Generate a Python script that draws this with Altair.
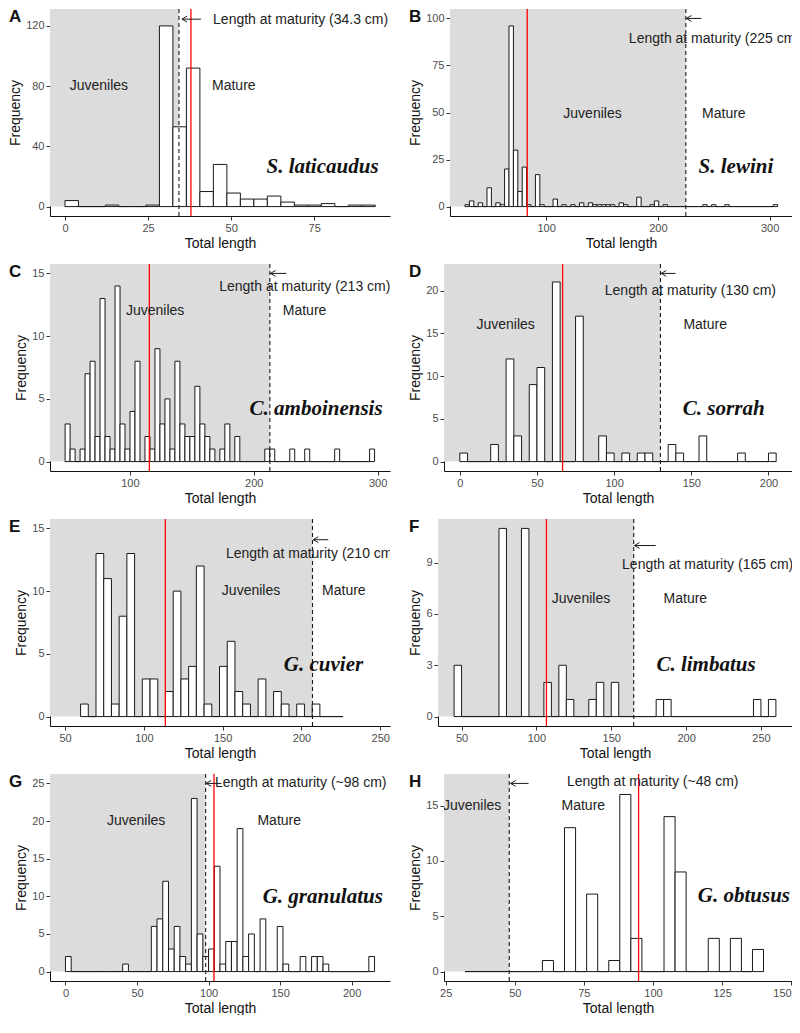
import altair as alt
import pandas as pd

# ---------------- data ----------------
letters = ["A", "B", "C", "D", "E", "F", "G", "H"]
species = ["S. laticaudus", "S. lewini", "C. amboinensis", "C. sorrah",
           "G. cuvier", "C. limbatus", "G. granulatus", "G. obtusus"]
maturity_text = ["Length at maturity (34.3 cm)", "Length at maturity (225 cm)",
                 "Length at maturity (213 cm)", "Length at maturity (130 cm)",
                 "Length at maturity (210 cm)", "Length at maturity (165 cm)",
                 "Length at maturity (~98 cm)", "Length at maturity (~48 cm)"]
maturity_len = [34.3, 225, 213, 130, 207, 165, 98, 48]
mean_len = [37.9, 83.1, 115.7, 66.6, 113.6, 106.7, 103.8, 94.8]

bin_start = [0, 27.4, 47.7, 0, 59.8, 45, 0, 32]
bin_width = [4.06, 3.94, 4.03, 5, 4.9, 5, 4, 4]

counts_A = [4, 0, 0, 1, 0, 0, 1, 120, 53, 92, 10, 28, 9, 5, 5, 7, 3, 1, 1, 2, 0, 1, 1]
counts_B = [1, 3, 0, 2, 0, 10, 0, 2, 1, 20,
            96, 30, 8, 21, 1, 0, 17, 1, 0, 0,
            4, 0, 1, 0, 1, 0, 2, 0, 2, 1,
            1, 1, 1, 1, 0, 2, 1, 0, 0, 5,
            0, 0, 1, 3, 0, 1, 0, 0, 0, 0,
            0, 0, 0, 0, 1, 0, 1, 0, 0, 1,
            0, 0, 0, 0, 0, 0, 0, 0, 0, 0,
            1]
counts_C = [3, 1, 0, 1, 7, 8, 2, 13, 2, 1,
            14, 3, 1, 4, 8, 0, 2, 1, 9, 3,
            5, 1, 8, 3, 2, 2, 6, 3, 2, 1,
            0, 1, 3, 0, 2, 0, 0, 0, 0, 0,
            1, 1, 0, 0, 0, 1, 0, 0, 1, 0,
            0, 0, 0, 0, 1, 0, 0, 0, 0, 0,
            0, 1]
counts_D = [1, 0, 0, 0, 2, 0, 12, 3, 0, 9,
            11, 0, 21, 0, 0, 17, 0, 0, 3, 1,
            0, 1, 0, 1, 1, 0, 0, 2, 1, 0,
            0, 3, 0, 0, 0, 0, 1, 0, 0, 0,
            1]
counts_E = [1, 0, 13, 11, 1, 8, 13, 0, 3, 3,
            0, 2, 10, 3, 4, 12, 1, 0, 4, 6,
            2, 1, 0, 3, 0, 2, 1, 0, 1, 0,
            1, 0, 0, 0]
counts_F = [3, 0, 0, 0, 0, 0, 11, 0, 0, 11,
            0, 0, 2, 0, 3, 1, 0, 0, 1, 2,
            0, 2, 0, 0, 0, 0, 0, 1, 1, 0,
            0, 0, 0, 0, 0, 0, 0, 0, 0, 0,
            1, 0, 1]
counts_G = [2, 0, 0, 0, 0, 0, 0, 0, 0, 0,
            1, 0, 0, 0, 0, 6, 7, 12, 3, 6,
            2, 1, 23, 5, 2, 3, 14, 1, 4, 4,
            19, 2, 5, 0, 7, 0, 0, 6, 1, 0,
            0, 2, 0, 2, 2, 1, 0, 0, 0, 0,
            0, 0, 0, 2]
counts_H = [0, 0, 0, 0, 0, 0, 0, 1, 0, 13,
            0, 7, 0, 1, 16, 3, 0, 0, 14, 9,
            0, 0, 3, 0, 3, 0, 2]
all_counts = [counts_A, counts_B, counts_C, counts_D, counts_E, counts_F, counts_G, counts_H]

x_domains = [[-4.5, 97.8], [14, 320], [35.5, 310], [-10.25, 215.25],
             [40.4, 256.2], [34.25, 270.75], [-10.8, 226.8], [24.4, 150.3]]
y_domains = [[-6.25, 131.25], [-5, 105], [-0.75, 15.75], [-1.1, 23.1],
             [-0.75, 15.75], [-0.55, 11.55], [-1.25, 26.25], [-0.85, 17.85]]
x_ticks = [[0, 25, 50, 75], [100, 200, 300], [100, 200, 300], [0, 50, 100, 150, 200],
           [50, 100, 150, 200, 250], [50, 100, 150, 200, 250], [0, 50, 100, 150, 200],
           [25, 50, 75, 100, 125, 150]]
y_ticks = [[0, 40, 80, 120], [0, 25, 50, 75, 100], [0, 5, 10, 15], [0, 5, 10, 15, 20],
           [0, 5, 10, 15], [0, 3, 6, 9], [0, 5, 10, 15, 20, 25], [0, 5, 10, 15]]

# annotation anchor points (data units)
juv_x = [10.2, 141.5, 120.4, 29.7, 168, 129.8, 49.4, 34.6]
juv_y = [80, 49.4, 12, 16, 10, 6.9, 20, 15]
mat_x = [50.8, 259, 241, 159, 226.9, 199.5, 149.4, 74.8]
mat_y = [80, 49.4, 12, 16, 10, 6.9, 20, 15]
lam_x = [70.9, 250.6, 241.2, 149.4, 206.4, 214.4, 164.4, 99.9]
lam_y = [124, 89, 13.9, 20, 13, 8.86, 25, 17.1]
arrow_from = [40.9, 239, 226.3, 139.8, 217, 179.7, 109, 55]
arrow_to = [35.2, 225.5, 213.5, 130.5, 207.5, 165.5, 98.3, 48.5]
arrow_y = [124.5, 100, 15, 22, 14.1, 10, 25, 17]
sp_x = [77.5, 269.8, 250.3, 171, 214, 213.3, 179.8, 132.9]
sp_y = [26, 20.8, 4.2, 6.1, 4.1, 3, 9.9, 6.8]

# ---------------- layout ----------------
widths = [340, 342, 340, 348, 340, 354, 340, 348]
letter_dx = [-41, -41, -41, -35, -41, -29, -41, -35]
PH = 207
SANS = "Liberation Sans"


def panel(i):
    xs = alt.Scale(domain=x_domains[i], nice=False, zero=False)
    ys = alt.Scale(domain=y_domains[i], nice=False, zero=False)
    xa = alt.Axis(title="Total length", values=x_ticks[i], labelFlush=(i == 7))
    ya = alt.Axis(title="Frequency", values=y_ticks[i])

    def X(f):
        return alt.X(f, type="quantitative", scale=xs, axis=xa)

    def Y(f):
        return alt.Y(f, type="quantitative", scale=ys, axis=ya)

    cnt = all_counts[i]
    s, w = bin_start[i], bin_width[i]
    hist = pd.DataFrame({
        "lo": [s + k * w for k in range(len(cnt))],
        "hi": [s + (k + 1) * w for k in range(len(cnt))],
        "base": [0] * len(cnt),
        "n": cnt,
    })
    shade = pd.DataFrame({"x0": [x_domains[i][0]], "x1": [maturity_len[i]],
                          "y0": [0], "y1": [y_domains[i][1]]})
    mat = pd.DataFrame({"m": [maturity_len[i]]})
    mean = pd.DataFrame({"mu": [mean_len[i]]})
    arr = pd.DataFrame({"a0": [arrow_from[i]], "a1": [arrow_to[i]], "ay": [arrow_y[i]]})
    txt = pd.DataFrame({
        "tx": [juv_x[i], mat_x[i], lam_x[i]],
        "ty": [juv_y[i], mat_y[i], lam_y[i]],
        "label": ["Juveniles", "Mature", maturity_text[i]],
    })
    sp = pd.DataFrame({"sx": [sp_x[i]], "sy": [sp_y[i]], "name": [species[i]]})
    let = pd.DataFrame({"t": [letters[i]]})

    layers = [
        alt.Chart(shade).mark_rect(color="#dcdcdc").encode(
            x=X("x0"), x2="x1", y=Y("y0"), y2="y1"),
        alt.Chart(hist).mark_rect(fill="white", stroke="#1a1a1a", strokeWidth=1).encode(
            x=X("lo"), x2="hi", y=Y("base"), y2="n"),
        alt.Chart(mat).mark_rule(color="#1a1a1a", strokeWidth=1.1, strokeDash=[4, 3]).encode(
            x=X("m")),
        alt.Chart(mean).mark_rule(color="#ff0000", strokeWidth=1.3).encode(
            x=X("mu")),
        alt.Chart(arr).mark_rule(color="#1a1a1a", strokeWidth=1).encode(
            x=X("a0"), x2="a1", y=Y("ay")),
        alt.Chart(arr).mark_point(shape="M0,0L1.3,-0.75M0,0L1.3,0.75", filled=False,
                                  size=60, color="#1a1a1a", strokeWidth=1, opacity=1).encode(
            x=X("a1"), y=Y("ay")),
        alt.Chart(txt).mark_text(font=SANS, fontSize=14, color="#222222", clip=True,
                                 baseline="middle").encode(
            x=X("tx"), y=Y("ty"), text="label:N"),
        alt.Chart(sp).mark_text(font="Liberation Serif", fontStyle="italic", fontWeight="bold",
                                fontSize=21, color="#111111", baseline="middle").encode(
            x=X("sx"), y=Y("sy"), text="name:N"),
        alt.Chart(let).mark_text(font=SANS, fontWeight="bold", fontSize=17, color="#111111",
                                 align="left", baseline="top").encode(
            x=alt.value(letter_dx[i]), y=alt.value(0), text="t:N"),
    ]
    return alt.layer(*layers).properties(width=widths[i], height=PH)


rows = [alt.hconcat(panel(2 * r), panel(2 * r + 1), spacing=18) for r in range(4)]
chart = alt.vconcat(*rows, spacing=13).properties(padding=0).configure_view(
    stroke=None
).configure_axis(
    grid=False, domainColor="#111111", domainWidth=1, tickColor="#333333", tickWidth=1,
    tickSize=4, labelColor="#4d4d4d", labelFontSize=11, labelFont=SANS,
    titleFont=SANS, titleFontSize=14, titleFontWeight="normal", titleColor="#111111",
    labelPadding=2, titlePadding=3
)

chart.save("out.html", embed_options={"renderer": "svg", "actions": False})
